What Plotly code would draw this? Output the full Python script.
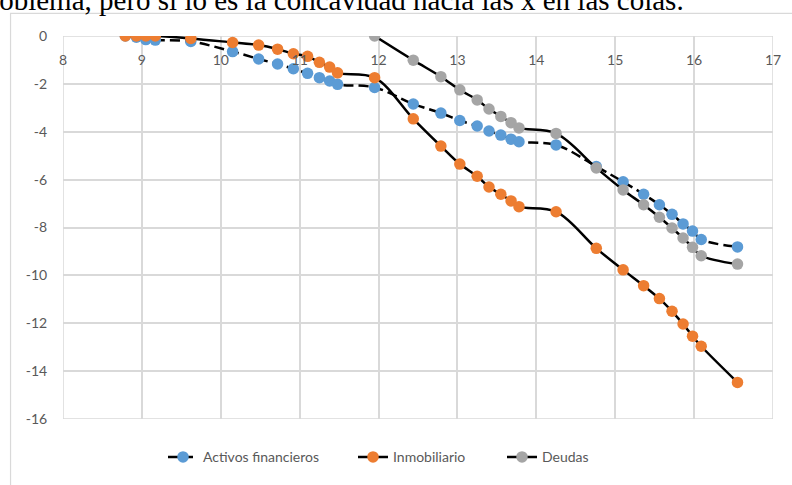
import plotly.graph_objects as go

x_all = [8.79, 8.93, 9.05, 9.17, 9.62, 10.15, 10.48, 10.72, 10.92, 11.10, 11.25, 11.38, 11.48,
         11.95, 12.44, 12.79, 13.03, 13.25, 13.40, 13.55, 13.68, 13.78, 14.25, 14.76,
         15.10, 15.36, 15.56, 15.72, 15.86, 15.98, 16.09, 16.55]

activos = [0.0, -0.05, -0.15, -0.17, -0.23, -0.65, -0.96, -1.17, -1.37, -1.56, -1.74, -1.88, -2.02,
           -2.15, -2.84, -3.22, -3.53, -3.76, -3.97, -4.14, -4.31, -4.42, -4.55, -5.45,
           -6.09, -6.61, -7.05, -7.45, -7.85, -8.15, -8.50, -8.81]

inmobiliario = [0.0, 0.0, 0.0, 0.0, -0.10, -0.27, -0.38, -0.55, -0.74, -0.85, -1.10, -1.30, -1.54,
                -1.74, -3.46, -4.60, -5.35, -5.86, -6.31, -6.61, -6.89, -7.13, -7.34, -8.87,
                -9.77, -10.43, -10.97, -11.50, -12.03, -12.54, -12.96, -14.47]

x_deudas = x_all[13:]
deudas = [0.0, -1.01, -1.70, -2.25, -2.67, -3.05, -3.36, -3.62, -3.84, -4.07, -5.51,
          -6.43, -7.05, -7.57, -8.02, -8.44, -8.83, -9.18, -9.53]

y_ticks = [0, -2, -4, -6, -8, -10, -12, -14, -16]
y_labels = ["0", "-2", "-4", "-6", "-8", "-10", "-12", "-14", "-16"]
x_ticks = list(range(8, 18))

intro_text = "problema, pero sí lo es la concavidad hacia las x en las colas."

FONT = "Lato"
GRID = "#D9D9D9"
TXT = "#595959"

fig = go.Figure()
fig.add_trace(go.Scatter(
    x=x_all, y=activos, name="Activos financieros", mode="lines+markers", legend="legend",
    line=dict(color="black", width=2.5, shape="spline", dash="10px,5px"),
    marker=dict(color="#5B9BD5", size=11.5)))
fig.add_trace(go.Scatter(
    x=x_all, y=inmobiliario, name="Inmobiliario", mode="lines+markers", legend="legend2",
    line=dict(color="black", width=2.5, shape="spline"),
    marker=dict(color="#ED7D31", size=11.5)))
fig.add_trace(go.Scatter(
    x=x_deudas, y=deudas, name="Deudas", mode="lines+markers", legend="legend3",
    line=dict(color="black", width=2.5, shape="spline"),
    marker=dict(color="#A5A5A5", size=11.5)))

def leg(xp):
    return dict(orientation="h", x=xp, xanchor="left", y=-0.1, yanchor="middle",
                font=dict(family=FONT, size=14, color=TXT), bgcolor="rgba(0,0,0,0)",
                borderwidth=0)

fig.update_layout(
    width=792, height=485,
    margin=dict(l=63, r=19, t=36, b=60),
    paper_bgcolor="white", plot_bgcolor="white",
    font=dict(family=FONT, size=14, color=TXT),
    showlegend=True,
    legend=leg((163 - 63) / 710),
    legend2=leg((353 - 63) / 710),
    legend3=leg((502 - 63) / 710),
    xaxis=dict(range=[8, 17], tickvals=x_ticks, anchor="free", position=1, side="bottom",
               ticks="outside", ticklen=11, tickcolor="rgba(0,0,0,0)",
               showgrid=True, gridcolor=GRID, gridwidth=1.5, zeroline=False,
               showline=False, ticklabeloverflow="allow",
               tickfont=dict(family=FONT, size=14, color=TXT)),
    yaxis=dict(range=[-16, 0], tickvals=y_ticks, ticktext=y_labels,
               showgrid=True, gridcolor=GRID, gridwidth=1.5, zeroline=False,
               showline=False,
               ticks="outside", ticklen=12, tickcolor="rgba(0,0,0,0)",
               tickfont=dict(family=FONT, size=14, color=TXT)),
    shapes=[dict(type="rect", xref="paper", yref="paper",
                 x0=-0.0739, x1=1.2, y0=-0.4, y1=1.0591,
                 line=dict(color=GRID, width=1.2), fillcolor="rgba(0,0,0,0)", layer="below"),
            dict(type="rect", xref="x", yref="y", x0=8, x1=17, y0=-16, y1=0,
                 line=dict(color=GRID, width=1.5), fillcolor="rgba(0,0,0,0)", layer="below")],
    annotations=[dict(text=intro_text, xref="paper", yref="paper",
                      x=(-27 - 63) / 710, xanchor="left", y=(425 + 1) / 389, yanchor="middle",
                      showarrow=False, font=dict(family="Liberation Serif", size=29, color="black"))],
)

fig.write_html("out.html")
